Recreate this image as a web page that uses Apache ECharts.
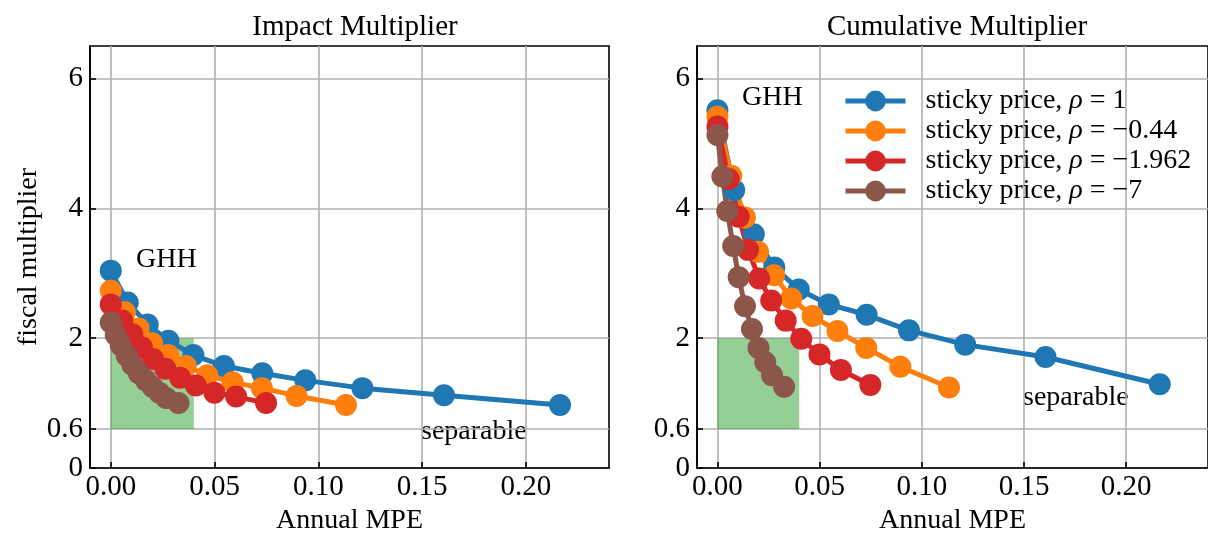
<!DOCTYPE html>
<html>
<head>
<meta charset="utf-8">
<script src="https://cdn.jsdelivr.net/npm/echarts@6/dist/echarts.min.js"></script>
<style>
  html, body { margin: 0; background: #fff; }
  #chart { width: 1208px; height: 533px; }
</style>
</head>
<body>
<div id="chart"></div>
<script>
// series names and colours
const seriesNames = [
  'sticky price, ρ = 1',
  'sticky price, ρ = −0.44',
  'sticky price, ρ = −1.962',
  'sticky price, ρ = −7'
];
const seriesColors = ['#1f77b4', '#ff7f0e', '#d62728', '#8c564b'];

// annual MPE (x) for each series, same in both panels
const mpeBlue   = [0, 0.0082, 0.0178, 0.0278, 0.0398, 0.0545, 0.0730, 0.0937, 0.1212, 0.1605, 0.2164];
const mpeOrange = [0, 0.0068, 0.0134, 0.0199, 0.0277, 0.0361, 0.0465, 0.0587, 0.0728, 0.0895, 0.1133];
const mpeRed    = [0, 0.0055, 0.0104, 0.0150, 0.0204, 0.0263, 0.0334, 0.0410, 0.0499, 0.0604, 0.0748];
const mpeBrown  = [0, 0.0024, 0.0048, 0.0077, 0.0104, 0.0135, 0.0169, 0.0201, 0.0234, 0.0267, 0.0326];

// impact multiplier (left panel)
const impactBlue   = [3.04, 2.55, 2.21, 1.96, 1.74, 1.57, 1.46, 1.35, 1.23, 1.12, 0.97];
const impactOrange = [2.73, 2.40, 2.15, 1.92, 1.74, 1.57, 1.43, 1.32, 1.23, 1.11, 0.97];
const impactRed    = [2.52, 2.27, 2.06, 1.86, 1.68, 1.53, 1.39, 1.27, 1.16, 1.10, 1.00];
const impactBrown  = [2.24, 2.05, 1.89, 1.73, 1.59, 1.46, 1.35, 1.25, 1.16, 1.08, 1.00];

// cumulative multiplier (right panel)
const cumBlue   = [5.51, 4.28, 3.60, 3.09, 2.75, 2.52, 2.36, 2.12, 1.90, 1.71, 1.29];
const cumOrange = [5.41, 4.50, 3.86, 3.33, 2.97, 2.61, 2.34, 2.11, 1.85, 1.56, 1.24];
const cumRed    = [5.26, 4.45, 3.87, 3.36, 2.92, 2.58, 2.27, 1.99, 1.75, 1.51, 1.28];
const cumBrown  = [5.13, 4.49, 3.96, 3.42, 2.94, 2.49, 2.14, 1.85, 1.63, 1.43, 1.25];

// ticks and shaded target box
const xTicks = [0, 0.05, 0.10, 0.15, 0.20];
const yTicks = [0, 0.6, 2, 4, 6];
const shadeX = [0, 0.04];
const shadeY = [0.6, 2];

const FONT = 'Liberation Serif';
const mpe = [mpeBlue, mpeOrange, mpeRed, mpeBrown];
const impact = [impactBlue, impactOrange, impactRed, impactBrown];
const cumulative = [cumBlue, cumOrange, cumRed, cumBrown];

function makeX(gridIndex) {
  return {
    gridIndex: gridIndex,
    type: 'value',
    min: -0.01,
    max: 0.24,
    name: 'Annual MPE',
    nameLocation: 'middle',
    nameGap: 38,
    nameTextStyle: { fontFamily: FONT, fontSize: 28, color: '#000' },
    axisLine: { show: true, onZero: false, lineStyle: { color: '#000', width: 1.6 } },
    axisTick: { show: true, inside: true, length: 6, customValues: xTicks, lineStyle: { color: '#000', width: 1.6 } },
    axisLabel: { customValues: xTicks, formatter: v => v.toFixed(2), fontFamily: FONT, fontSize: 29, color: '#000', margin: 5 },
    splitLine: { show: true, lineStyle: { color: '#b0b0b0', width: 1.6 } }
  };
}

function makeY(gridIndex, name) {
  return {
    gridIndex: gridIndex,
    type: 'value',
    min: 0,
    max: 6.5,
    name: name,
    nameLocation: 'middle',
    nameGap: 46,
    nameTextStyle: { fontFamily: FONT, fontSize: 28, color: '#000' },
    axisLine: { show: true, onZero: false, lineStyle: { color: '#000', width: 1.6 } },
    axisTick: { show: true, inside: true, length: 6, customValues: yTicks, lineStyle: { color: '#000', width: 1.6 } },
    axisLabel: { customValues: yTicks, formatter: v => String(v), fontFamily: FONT, fontSize: 29, color: '#000', margin: 7 },
    splitLine: { show: true, lineStyle: { color: '#b0b0b0', width: 1.6 } }
  };
}

function makeSeries(ys, gridIndex) {
  return seriesNames.map((name, i) => {
    const s = {
      name: name,
      type: 'line',
      xAxisIndex: gridIndex,
      yAxisIndex: gridIndex,
      data: mpe[i].map((x, j) => [x, ys[i][j]]),
      symbol: 'circle',
      symbolSize: 22,
      showSymbol: true,
      color: seriesColors[i],
      lineStyle: { width: 5, color: seriesColors[i] },
      itemStyle: { color: seriesColors[i] },
      emphasis: { disabled: true }
    };
    if (i === 0) {
      s.markArea = {
        silent: true,
        itemStyle: { color: 'rgba(44,160,44,0.5)' },
        data: [[{ coord: [shadeX[0], shadeY[0]] }, { coord: [shadeX[1], shadeY[1]] }]]
      };
    }
    return s;
  });
}

function label(text, x, y) {
  return {
    type: 'text',
    x: x, y: y,
    style: { text: text, fontFamily: FONT, fontSize: 28, fill: '#000', textVerticalAlign: 'middle' }
  };
}

const chart = echarts.init(document.getElementById('chart'));
chart.setOption({
  animation: false,
  backgroundColor: '#fff',
  title: [
    { text: 'Impact Multiplier', left: 350, top: 8, textAlign: 'center',
      textStyle: { fontFamily: FONT, fontSize: 29, fontWeight: 'normal', color: '#000' } },
    { text: 'Cumulative Multiplier', left: 952, top: 8, textAlign: 'center',
      textStyle: { fontFamily: FONT, fontSize: 29, fontWeight: 'normal', color: '#000' } }
  ],
  grid: [
    { left: 90, top: 46, width: 519, height: 422, show: true, borderColor: '#000', borderWidth: 1.6,
      backgroundColor: 'transparent', outerBoundsMode: 'none', containLabel: false },
    { left: 697, top: 46, width: 511, height: 422, show: true, borderColor: '#000', borderWidth: 1.6,
      backgroundColor: 'transparent', outerBoundsMode: 'none', containLabel: false }
  ],
  xAxis: [makeX(0), makeX(1)],
  yAxis: [makeY(0, 'fiscal multiplier'), makeY(1, '')],
  legend: {
    data: seriesNames,
    orient: 'vertical',
    left: 843,
    top: 87,
    padding: 0,
    itemWidth: 60,
    itemHeight: 26,
    itemGap: 2,
    lineStyle: { width: 5 },
    formatter: name => name.replace('ρ', '{i|ρ}'),
    textStyle: {
      fontFamily: FONT, fontSize: 28, color: '#000', padding: [0, 0, 0, 15],
      rich: { i: { fontFamily: FONT, fontSize: 28, fontStyle: 'italic', color: '#000' } }
    }
  },
  graphic: [
    label('GHH', 136, 260),
    label('separable', 421, 432),
    label('GHH', 742, 98),
    label('separable', 1023, 398)
  ],
  series: makeSeries(impact, 0).concat(makeSeries(cumulative, 1))
});
</script>
</body>
</html>
